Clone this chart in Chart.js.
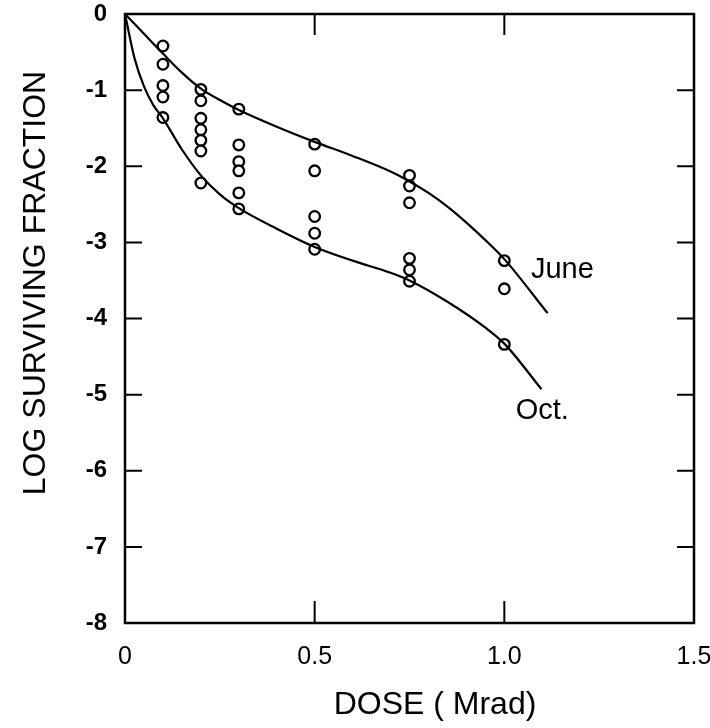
<!DOCTYPE html>
<html><head><meta charset="utf-8">
<script src="https://cdn.jsdelivr.net/npm/chart.js@4.4.1/dist/chart.umd.min.js"></script>
<style>html,body{margin:0;padding:0;background:#fff}#wrap{width:710px;height:728px}</style>
</head><body><div id="wrap"><canvas id="c" width="710" height="728"></canvas></div>
<script>
const xTickValues = [0, 0.5, 1.0, 1.5];
const xTickLabels = ['0', '0.5', '1.0', '1.5'];
const yTickValues = [0, -1, -2, -3, -4, -5, -6, -7, -8];
const yTickLabels = ['0', '-1', '-2', '-3', '-4', '-5', '-6', '-7', '-8'];

const obsDose = [0.1,0.1,0.1,0.1,0.1, 0.2,0.2,0.2,0.2,0.2,0.2,0.2, 0.3,0.3,0.3,0.3,0.3,0.3, 0.5,0.5,0.5,0.5,0.5, 0.75,0.75,0.75,0.75,0.75,0.75, 1.0,1.0,1.0];
const obsLogSF = [-0.42,-0.66,-0.94,-1.09,-1.36, -0.99,-1.14,-1.37,-1.52,-1.66,-1.80,-2.22, -1.25,-1.72,-1.94,-2.06,-2.35,-2.56, -1.71,-2.06,-2.66,-2.88,-3.09, -2.12,-2.26,-2.48,-3.21,-3.36,-3.51, -3.24,-3.61,-4.34];

const juneCurveDose  = [0, 0.05, 0.1, 0.15, 0.2, 0.25, 0.3, 0.4, 0.5, 0.6, 0.7, 0.75, 0.8, 0.85, 0.9, 0.95, 1.0, 1.114];
const juneCurveLogSF = [0, -0.26, -0.52, -0.77, -0.98, -1.13, -1.26, -1.48, -1.68, -1.865, -2.07, -2.20, -2.35, -2.53, -2.74, -2.97, -3.22, -3.93];
const octCurveDose  = [0, 0.025, 0.05, 0.075, 0.1, 0.15, 0.2, 0.25, 0.3, 0.4, 0.5, 0.6, 0.7, 0.75, 0.85, 0.95, 1.0, 1.098];
const octCurveLogSF = [0, -0.58, -0.95, -1.20, -1.37, -1.78, -2.12, -2.37, -2.55, -2.82, -3.06, -3.24, -3.40, -3.50, -3.78, -4.12, -4.33, -4.93];

const seriesNames = ['June', 'Oct.'];

function pts(xs, ys){ return xs.map((v,i)=>({x:v, y:ys[i]})); }

const FONT = "'Liberation Sans', Arial, sans-serif";

const framePlugin = {
  id: 'frame',
  afterDatasetsDraw(chart){
    const {ctx, chartArea:a, scales:{x, y}} = chart;
    ctx.save();
    ctx.strokeStyle = '#000';
    ctx.lineWidth = 2.5;
    ctx.strokeRect(a.left, a.top, a.right - a.left, a.bottom - a.top);
    ctx.lineWidth = 2;
    ctx.beginPath();
    y.ticks.forEach(t => {
      const p = y.getPixelForValue(t.value);
      if (p <= a.top + 1 || p >= a.bottom - 1) return;
      ctx.moveTo(a.left, p); ctx.lineTo(a.left + 17, p);
      ctx.moveTo(a.right, p); ctx.lineTo(a.right - 17, p);
    });
    x.ticks.forEach(t => {
      const p = x.getPixelForValue(t.value);
      if (p <= a.left + 1 || p >= a.right - 1) return;
      ctx.moveTo(p, a.bottom); ctx.lineTo(p, a.bottom - 22);
      ctx.moveTo(p, a.top); ctx.lineTo(p, a.top + 21);
    });
    ctx.stroke();
    ctx.restore();
  },
  afterDraw(chart){
    const {ctx, scales:{x, y}} = chart;
    ctx.save();
    ctx.fillStyle = '#000';
    ctx.textAlign = 'center';
    ctx.textBaseline = 'middle';
    ctx.font = '32px ' + FONT;
    ctx.fillText('DOSE ( Mrad)', 435, 705);
    ctx.save();
    ctx.translate(36, 283);
    ctx.rotate(-Math.PI/2);
    ctx.fillText('LOG SURVIVING FRACTION', 0, 0);
    ctx.restore();
    ctx.textAlign = 'left';
    ctx.font = '29px ' + FONT;
    ctx.fillText(seriesNames[0], x.getPixelForValue(1.07), y.getPixelForValue(-3.36));
    ctx.fillText(seriesNames[1], x.getPixelForValue(1.03), y.getPixelForValue(-5.22));
    ctx.restore();
  }
};

new Chart(document.getElementById('c'), {
  type: 'scatter',
  data: {
    datasets: [
      { label: 'June curve', data: pts(juneCurveDose, juneCurveLogSF), showLine: true, borderColor: '#000', borderWidth: 2.2, pointRadius: 0, cubicInterpolationMode: 'monotone', fill: false },
      { label: 'Oct. curve', data: pts(octCurveDose, octCurveLogSF), showLine: true, borderColor: '#000', borderWidth: 2.2, pointRadius: 0, cubicInterpolationMode: 'monotone', fill: false },
      { label: 'Data', data: pts(obsDose, obsLogSF), showLine: false, pointStyle: 'circle', pointRadius: 5.3, borderColor: '#000', borderWidth: 2.3, backgroundColor: '#fff' }
    ]
  },
  options: {
    responsive: false,
    animation: false,
    devicePixelRatio: 1,
    layout: { padding: { left: 0, right: 16, top: 14, bottom: 0 } },
    plugins: { legend: { display: false }, tooltip: { enabled: false } },
    scales: {
      x: {
        type: 'linear', min: 0, max: 1.5,
        afterBuildTicks: s => { s.ticks = xTickValues.map(v => ({value: v})); },
        afterFit: s => { s.height = 105; s.paddingLeft = 0; s.paddingRight = 0; },
        grid: { display: false, drawTicks: false },
        border: { display: false },
        ticks: { padding: 19, color: '#000', font: { family: FONT, size: 25 },
          callback: (v) => { const i = xTickValues.indexOf(v); return i >= 0 ? xTickLabels[i] : ''; } }
      },
      y: {
        type: 'linear', min: -8, max: 0,
        afterBuildTicks: s => { s.ticks = yTickValues.map(v => ({value: v})); },
        afterFit: s => { s.width = 125; s.paddingTop = 0; s.paddingBottom = 0; },
        grid: { display: false, drawTicks: false },
        border: { display: false },
        ticks: { padding: 18, color: '#000', font: { family: FONT, size: 24, weight: 'bold' },
          callback: (v) => { const i = yTickValues.indexOf(v); return i >= 0 ? yTickLabels[i] : ''; } }
      }
    }
  },
  plugins: [framePlugin]
});
</script>
</body></html>
